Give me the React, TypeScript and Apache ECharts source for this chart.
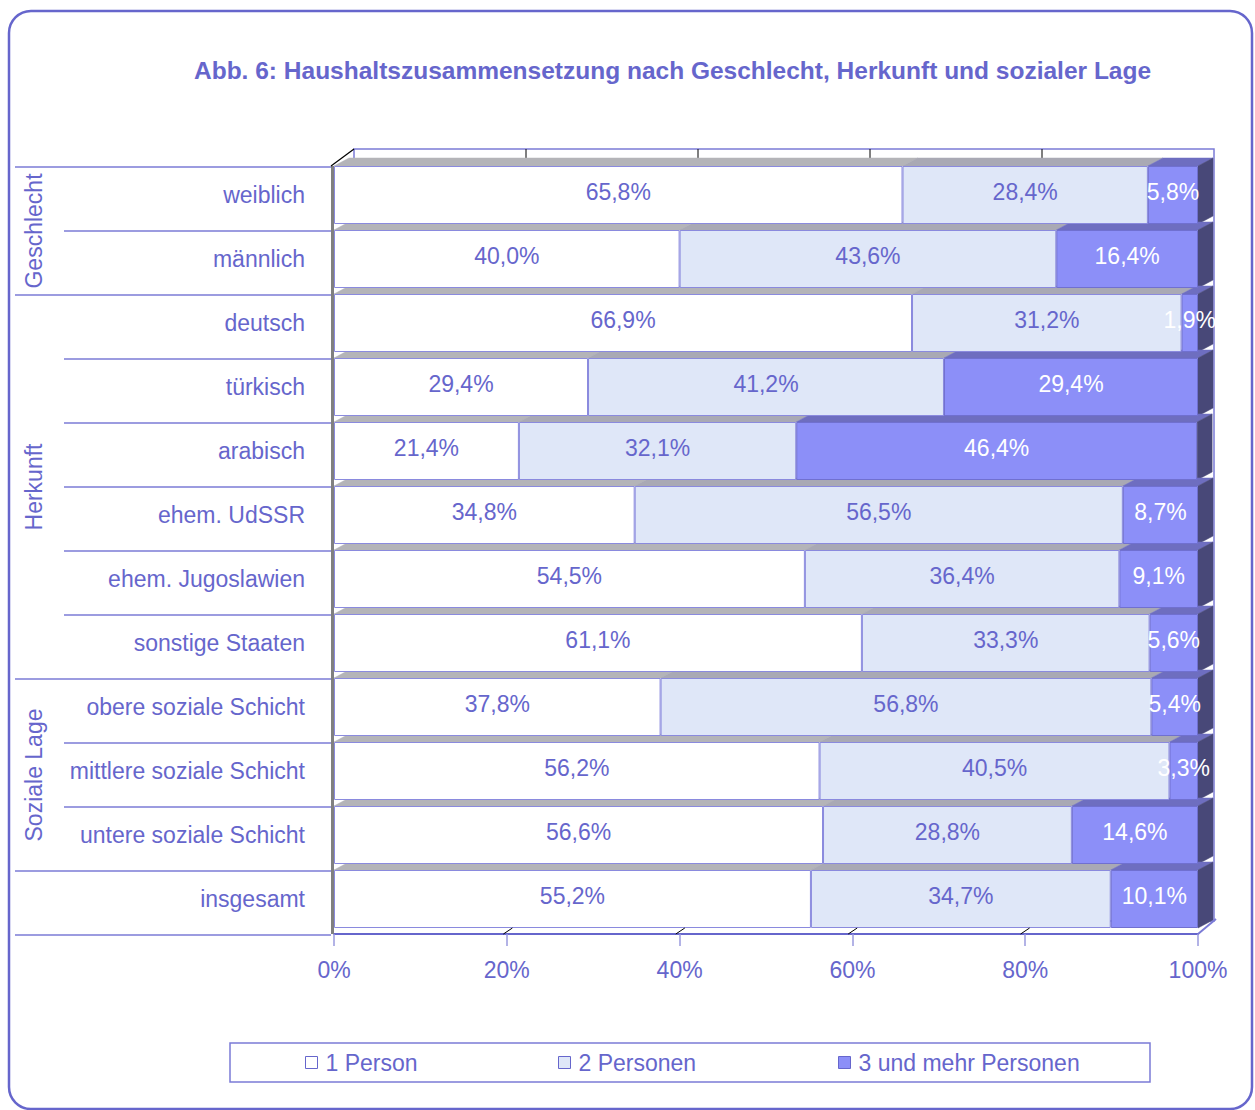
import React, { useEffect, useRef } from 'react';
import * as echarts from 'echarts';

const categories = [
  'weiblich',
  'männlich',
  'deutsch',
  'türkisch',
  'arabisch',
  'ehem. UdSSR',
  'ehem. Jugoslawien',
  'sonstige Staaten',
  'obere soziale Schicht',
  'mittlere soziale Schicht',
  'untere soziale Schicht',
  'insgesamt',
];
const seriesNames = ['1 Person', '2 Personen', '3 und mehr Personen'];
const onePerson = [65.8, 40.0, 66.9, 29.4, 21.4, 34.8, 54.5, 61.1, 37.8, 56.2, 56.6, 55.2];
const twoPersons = [28.4, 43.6, 31.2, 41.2, 32.1, 56.5, 36.4, 33.3, 56.8, 40.5, 28.8, 34.7];
const threePlus = [5.8, 16.4, 1.9, 29.4, 46.4, 8.7, 9.1, 5.6, 5.4, 3.3, 14.6, 10.1];
const groupNames = ['Geschlecht', 'Herkunft', 'Soziale Lage'];
const groupStarts = [0, 2, 8, 11];
const xTicks = [0, 20, 40, 60, 80, 100];
const titleText = 'Abb. 6: Haushaltszusammensetzung nach Geschlecht, Herkunft und sozialer Lage';

const TXT = '#6666cc';
const LINE = '#7b7bd6';
const FONT = '"Liberation Sans", Arial, Helvetica, sans-serif';
const FS = 23;
const GRID_LEFT = 334;
const GRID_RIGHT = 57;
const GRID_TOP = 163;
const ROW = 64;
const BAR_H = 58;
const DX = 15;
const DY = 8;
const SEP_TOP = 167;

const fmt = (v: number) => v.toFixed(1).replace('.', ',') + '%';

export default function App() {
  const ref = useRef<HTMLDivElement>(null);
  useEffect(() => {
    if (!ref.current) return;
    const chart = echarts.init(ref.current, undefined, { renderer: 'svg' });
    const n = categories.length;
    const gridHeight = ROW * n;

    const renderFaces = (params: any, api: any) => {
      const cat = api.value(0);
      const a = api.value(1);
      const b = api.value(2);
      const c = api.value(3);
      const p0 = api.coord([0, cat]);
      const p1 = api.coord([a, cat]);
      const p2 = api.coord([a + b, cat]);
      const p3 = api.coord([a + b + c, cat]);
      const top = p0[1] - BAR_H / 2;
      const bot = p0[1] + BAR_H / 2;
      const para = (x0: number, x1: number, fill: string) => ({
        type: 'polygon',
        shape: { points: [[x0, top], [x1, top], [x1 + DX, top - DY], [x0 + DX, top - DY]] },
        style: { fill, stroke: fill, lineWidth: 0.5 },
      });
      return {
        type: 'group',
        children: [
          para(p0[0], p1[0], '#b4b4b8'),
          para(p1[0], p2[0], '#a9a9b4'),
          para(p2[0], p3[0], '#6e6ec0'),
          {
            type: 'polygon',
            shape: { points: [[p3[0], top], [p3[0] + DX, top - DY], [p3[0] + DX, bot - DY], [p3[0], bot]] },
            style: { fill: '#484878', stroke: '#484878', lineWidth: 0.5 },
          },
        ],
      };
    };

    const graphics: any[] = [];
    // outer rounded frame
    graphics.push({
      type: 'rect',
      shape: { x: 9, y: 11, width: 1243, height: 1098, r: 22 },
      style: { fill: 'none', stroke: '#6666cc', lineWidth: 2.5 },
      z: 0,
    });
    // back wall
    graphics.push({
      type: 'rect',
      shape: { x: GRID_LEFT + 20, y: 149, width: 860, height: 772 },
      style: { fill: '#ffffff', stroke: LINE, lineWidth: 1.5 },
      z: 0,
    });
    // back wall gridlines (top strip) and floor gridline stubs
    for (let k = 1; k < xTicks.length - 1; k++) {
      const gx = GRID_LEFT + 20 + (860 * k) / (xTicks.length - 1);
      graphics.push({
        type: 'line',
        shape: { x1: gx, y1: 149, x2: gx, y2: 158 },
        style: { stroke: '#000000', lineWidth: 1 },
        z: 0,
      });
      const fx = GRID_LEFT - 3 + (862 * k) / (xTicks.length - 1);
      graphics.push({
        type: 'line',
        shape: { x1: fx, y1: 934, x2: fx + 9, y2: 928 },
        style: { stroke: '#000000', lineWidth: 1 },
        z: 5,
      });
    }
    // left wall
    graphics.push({
      type: 'rect',
      shape: { x: GRID_LEFT - 3, y: 166, width: 3, height: 768 },
      style: { fill: '#808080' },
      z: 5,
    });
    graphics.push({
      type: 'line',
      shape: { x1: GRID_LEFT - 3, y1: 166, x2: GRID_LEFT + 20, y2: 149 },
      style: { stroke: '#000000', lineWidth: 1.2 },
      z: 5,
    });
    // floor right slant
    graphics.push({
      type: 'line',
      shape: { x1: 1198, y1: 934, x2: 1216, y2: 919 },
      style: { stroke: LINE, lineWidth: 2 },
      z: 5,
    });
    // row separators on the left
    for (let k = 0; k <= n; k++) {
      const isGroup = groupStarts.includes(k) || k === n;
      const y = SEP_TOP + ROW * k;
      graphics.push({
        type: 'line',
        shape: { x1: isGroup ? 15 : 64, y1: y, x2: GRID_LEFT - 3, y2: y },
        style: { stroke: LINE, lineWidth: 1.5 },
        z: 5,
      });
    }
    // group labels
    groupNames.forEach((g, i) => {
      const yc = SEP_TOP + (ROW * (groupStarts[i] + groupStarts[i + 1])) / 2;
      graphics.push({
        type: 'text',
        x: 34,
        y: yc,
        rotation: Math.PI / 2,
        style: {
          text: g,
          fill: TXT,
          font: `${FS}px ${FONT}`,
          textAlign: 'center',
          textVerticalAlign: 'middle',
        },
        z: 5,
      });
    });
    // legend box
    graphics.push({
      type: 'rect',
      shape: { x: 230, y: 1043, width: 920, height: 39 },
      style: { fill: '#ffffff', stroke: LINE, lineWidth: 1.5 },
      z: 0,
    });

    const seriesData = [onePerson, twoPersons, threePlus];
    const fills = ['#ffffff', '#dfe7f8', '#8c8ff8'];
    const labelColors = [TXT, TXT, '#ffffff'];
    const legendLefts = [300, 553, 833];

    chart.setOption({
      animation: false,
      backgroundColor: '#ffffff',
      title: {
        text: titleText,
        left: 189,
        top: 53,
        textStyle: { color: TXT, fontSize: 24.5, fontWeight: 'bold', fontFamily: FONT },
      },
      legend: seriesNames.map((name, i) => ({
        data: [name],
        left: legendLefts[i],
        top: 1046,
        icon: 'rect',
        itemWidth: 12,
        itemHeight: 12,
        itemStyle: { borderColor: '#6666cc', borderWidth: 1 },
        textStyle: { color: TXT, fontSize: FS, fontFamily: FONT, padding: [0, 0, 0, 3] },
        selectedMode: false,
        z: 10,
      })),
      grid: { left: GRID_LEFT, right: GRID_RIGHT, top: GRID_TOP, height: gridHeight },
      xAxis: {
        type: 'value',
        min: xTicks[0],
        max: xTicks[xTicks.length - 1],
        interval: xTicks[1] - xTicks[0],
        offset: 3,
        axisLine: { show: true, lineStyle: { color: '#6666cc', width: 2 } },
        axisTick: { show: true, length: 12, lineStyle: { color: '#9a9ade', width: 1.5 } },
        splitLine: { show: false },
        axisLabel: {
          formatter: '{value}%',
          color: TXT,
          fontSize: FS,
          fontFamily: FONT,
          margin: 24,
        },
      },
      yAxis: {
        type: 'category',
        inverse: true,
        data: categories,
        axisLine: { show: false },
        axisTick: { show: false },
        axisLabel: { color: TXT, fontSize: FS, fontFamily: FONT, margin: 29 },
      },
      graphic: graphics,
      series: [
        {
          type: 'custom',
          renderItem: renderFaces,
          data: categories.map((_, i) => [i, onePerson[i], twoPersons[i], threePlus[i]]),
          encode: { y: 0, x: [1, 2, 3] },
          z: 1,
          silent: true,
          clip: false,
        },
        ...seriesNames.map((name, i) => ({
          name,
          type: 'bar',
          stack: 'total',
          barWidth: BAR_H,
          data: seriesData[i],
          z: 2,
          itemStyle: {
            color: fills[i],
            borderColor: i === 2 ? '#7070d0' : '#8a8ade',
            borderWidth: 1,
          },
          label: {
            show: true,
            position: 'inside',
            formatter: (p: any) => fmt(p.value),
            color: labelColors[i],
            fontSize: FS,
            fontFamily: FONT,
            offset: [0, -3],
          },
        })),
      ],
    });
    return () => chart.dispose();
  }, []);
  return (
    <div
      ref={ref}
      style={{ position: 'absolute', left: 0, top: 0, width: 1255, height: 1110 }}
    />
  );
}
